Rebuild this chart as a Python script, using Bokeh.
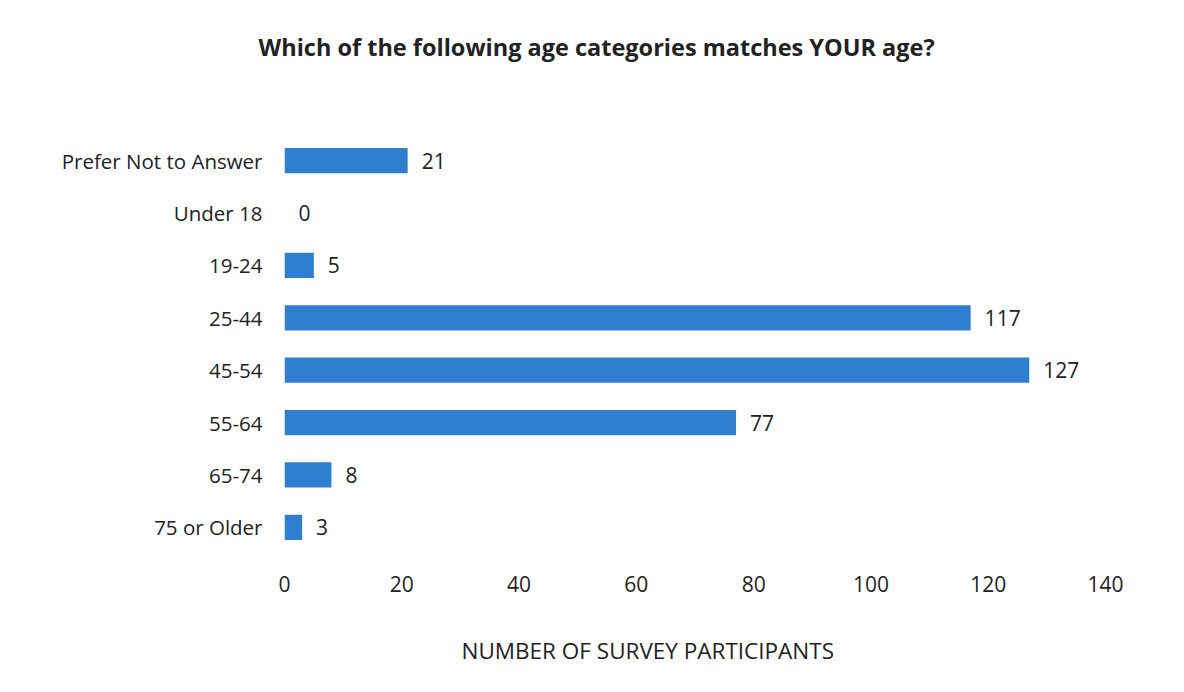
from bokeh.plotting import figure
from bokeh.models import ColumnDataSource, FactorRange, Range1d, Title, FixedTicker
from bokeh.core.properties import value
from bokeh.embed import file_html
from bokeh.resources import INLINE

categories = ["Prefer Not to Answer", "Under 18", "19-24", "25-44", "45-54", "55-64", "65-74", "75 or Older"]
counts = [21, 0, 5, 117, 127, 77, 8, 3]
x_ticks = [0, 20, 40, 60, 80, 100, 120, 140]
title_text = "Which of the following age categories matches YOUR age?"
x_label = "NUMBER OF SURVEY PARTICIPANTS"

FONT = "Open Sans"
BAR = "#2E7FD0"
TXT = "#222222"

src = ColumnDataSource(dict(cat=categories, n=counts, lbl=[str(c) for c in counts]))

p = figure(width=1184, height=692, output_backend="svg", toolbar_location=None,
           y_range=FactorRange(*reversed(categories), range_padding=0),
           x_range=Range1d(0, 140),
           min_border_left=284, min_border_right=79, min_border_top=134, min_border_bottom=139)

p.hbar(y="cat", right="n", left=0, height=0.48, source=src, fill_color=BAR, line_color=None)
p.text(x="n", y="cat", text="lbl", source=src, x_offset=14, text_baseline="middle",
       text_align="left", text_font=value(FONT), text_font_size="21px", text_color=TXT)

p.xgrid.visible = False
p.ygrid.visible = False
p.outline_line_color = None
p.background_fill_color = "white"
p.border_fill_color = "white"

xa = p.xaxis[0]
xa.ticker = FixedTicker(ticks=x_ticks)
xa.axis_line_color = None
xa.major_tick_line_color = None
xa.minor_tick_line_color = None
xa.major_label_standoff = 16
xa.major_label_text_font = FONT
xa.major_label_text_font_size = "21px"
xa.major_label_text_color = TXT

ya = p.yaxis[0]
ya.axis_line_color = None
ya.major_tick_line_color = None
ya.minor_tick_line_color = None
ya.major_label_standoff = 16
ya.major_label_text_font = FONT
ya.major_label_text_font_size = "20.5px"
ya.major_label_text_color = TXT

# spacer (closest to frame) then the title above it
p.add_layout(Title(text=" ", text_font_size="1px", standoff=69), "above")
p.add_layout(Title(text=title_text, align="left", offset=-26, standoff=0,
                   text_font=FONT, text_font_size="23.5px", text_font_style="bold",
                   text_color=TXT), "above")
# spacer below the axis, then the axis label
p.add_layout(Title(text=" ", text_font_size="1px", standoff=35), "below")
p.add_layout(Title(text=x_label, align="left", offset=177, standoff=0,
                   text_font=FONT, text_font_size="22.5px", text_font_style="normal",
                   text_color=TXT), "below")

open("out.html", "w").write(file_html(p, INLINE))
